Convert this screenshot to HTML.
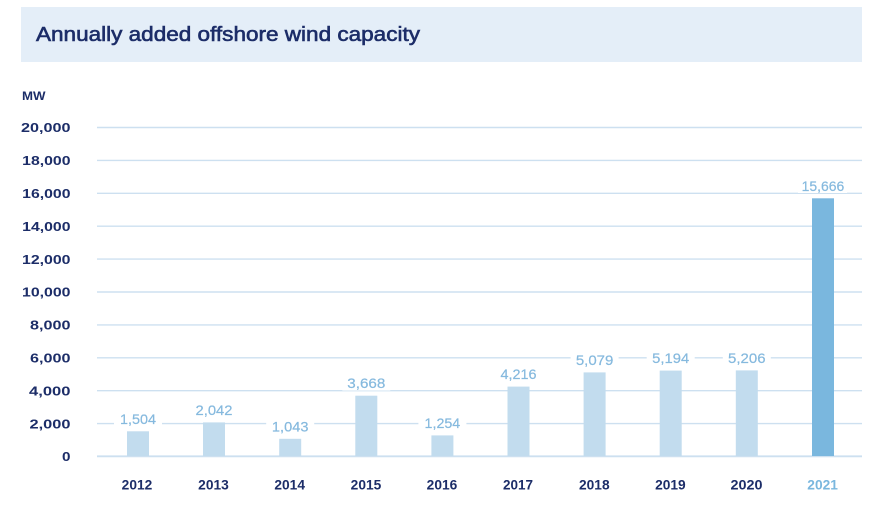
<!DOCTYPE html>
<html><head><meta charset="utf-8"><style>
html,body{margin:0;padding:0;background:#fff;}
svg{display:block;}
text{font-family:"Liberation Sans",sans-serif;}
</style></head><body>
<svg width="874" height="512" viewBox="0 0 874 512" xmlns="http://www.w3.org/2000/svg">
<rect x="0" y="0" width="874" height="512" fill="#fff"/>
<rect x="21" y="7" width="841" height="55" fill="#e4eef8"/>
<text x="36" y="41" font-size="20" fill="#1c2d68" stroke="#1c2d68" stroke-width="0.6" textLength="384" lengthAdjust="spacingAndGlyphs">Annually added offshore wind capacity</text>
<text x="22" y="100" font-size="11.5" font-weight="bold" fill="#1c2d68" textLength="23.5" lengthAdjust="spacingAndGlyphs">MW</text>
<g stroke="#cde0f0" stroke-width="1.4">
<line x1="97" x2="862" y1="127.5" y2="127.5"/>
<line x1="97" x2="862" y1="160.4" y2="160.4"/>
<line x1="97" x2="862" y1="193.3" y2="193.3"/>
<line x1="97" x2="862" y1="226.2" y2="226.2"/>
<line x1="97" x2="862" y1="259.1" y2="259.1"/>
<line x1="97" x2="862" y1="292" y2="292"/>
<line x1="97" x2="862" y1="324.9" y2="324.9"/>
<line x1="97" x2="862" y1="357.8" y2="357.8"/>
<line x1="97" x2="862" y1="390.7" y2="390.7"/>
<line x1="97" x2="862" y1="423.6" y2="423.6"/>
<line x1="97" x2="862" y1="456.3" y2="456.3" stroke-width="1.8"/>
</g>
<g font-size="13" font-weight="bold" fill="#1c2d68" text-anchor="end">
<text x="70.5" y="132.2" textLength="49.5" lengthAdjust="spacingAndGlyphs">20,000</text>
<text x="70.5" y="165.1" textLength="48.3" lengthAdjust="spacingAndGlyphs">18,000</text>
<text x="70.5" y="198" textLength="48.3" lengthAdjust="spacingAndGlyphs">16,000</text>
<text x="70.5" y="230.9" textLength="48.3" lengthAdjust="spacingAndGlyphs">14,000</text>
<text x="70.5" y="263.8" textLength="48.5" lengthAdjust="spacingAndGlyphs">12,000</text>
<text x="70.5" y="296.7" textLength="48.5" lengthAdjust="spacingAndGlyphs">10,000</text>
<text x="70.5" y="329.6" textLength="40.5" lengthAdjust="spacingAndGlyphs">8,000</text>
<text x="70.5" y="362.5" textLength="40.5" lengthAdjust="spacingAndGlyphs">6,000</text>
<text x="70.5" y="395.4" textLength="41.5" lengthAdjust="spacingAndGlyphs">4,000</text>
<text x="70.5" y="428.3" textLength="41" lengthAdjust="spacingAndGlyphs">2,000</text>
<text x="70.5" y="461" textLength="8.5" lengthAdjust="spacingAndGlyphs">0</text>
</g>
<g fill="#c2dcee">
<rect x="127" y="431.3" width="22" height="24.7"/>
<rect x="203" y="422.4" width="22" height="33.6"/>
<rect x="279.2" y="438.8" width="22" height="17.2"/>
<rect x="355.3" y="395.7" width="22" height="60.3"/>
<rect x="431.4" y="435.4" width="22" height="20.6"/>
<rect x="507.5" y="386.6" width="22" height="69.4"/>
<rect x="583.6" y="372.4" width="22" height="83.6"/>
<rect x="659.7" y="370.6" width="22" height="85.4"/>
<rect x="735.8" y="370.4" width="22" height="85.6"/>
</g>
<rect x="812" y="198.3" width="22" height="257.7" fill="#7ab7de"/>
<g fill="#fff">
<rect x="114" y="412" width="48" height="14"/>
<rect x="190.5" y="403" width="47" height="14"/>
<rect x="266.2" y="419.5" width="48" height="14"/>
<rect x="342.3" y="376.5" width="48" height="14"/>
<rect x="418.4" y="416" width="48" height="14"/>
<rect x="494.5" y="367.5" width="48" height="14"/>
<rect x="570.6" y="353" width="48" height="14"/>
<rect x="646.7" y="351.5" width="48" height="14"/>
<rect x="722.8" y="351" width="48" height="14"/>
<rect x="798" y="179" width="49" height="14"/>
</g>
<g font-size="13.5" fill="#85b9de" stroke="#85b9de" stroke-width="0.2" text-anchor="middle">
<text x="138" y="423.8" textLength="36" lengthAdjust="spacingAndGlyphs">1,504</text>
<text x="214" y="414.9" textLength="37" lengthAdjust="spacingAndGlyphs">2,042</text>
<text x="290.2" y="431.3" textLength="36.5" lengthAdjust="spacingAndGlyphs">1,043</text>
<text x="366.3" y="388.2" textLength="38" lengthAdjust="spacingAndGlyphs">3,668</text>
<text x="442.4" y="427.9" textLength="35.7" lengthAdjust="spacingAndGlyphs">1,254</text>
<text x="518.5" y="379.1" textLength="36" lengthAdjust="spacingAndGlyphs">4,216</text>
<text x="594.6" y="364.9" textLength="37.5" lengthAdjust="spacingAndGlyphs">5,079</text>
<text x="670.7" y="363.1" textLength="37" lengthAdjust="spacingAndGlyphs">5,194</text>
<text x="746.8" y="362.9" textLength="37.5" lengthAdjust="spacingAndGlyphs">5,206</text>
<text x="822.9" y="190.8" textLength="42.6" lengthAdjust="spacingAndGlyphs">15,666</text>
</g>
<g font-size="13.5" font-weight="bold" fill="#1c2d68" text-anchor="middle">
<text x="137" y="489.3" textLength="30.6" lengthAdjust="spacingAndGlyphs">2012</text>
<text x="213.5" y="489.3" textLength="30.6" lengthAdjust="spacingAndGlyphs">2013</text>
<text x="289.7" y="489.3" textLength="30.6" lengthAdjust="spacingAndGlyphs">2014</text>
<text x="366" y="489.3" textLength="30.6" lengthAdjust="spacingAndGlyphs">2015</text>
<text x="442" y="489.3" textLength="30.6" lengthAdjust="spacingAndGlyphs">2016</text>
<text x="518" y="489.3" textLength="30" lengthAdjust="spacingAndGlyphs">2017</text>
<text x="594.3" y="489.3" textLength="30.6" lengthAdjust="spacingAndGlyphs">2018</text>
<text x="670.4" y="489.3" textLength="30.6" lengthAdjust="spacingAndGlyphs">2019</text>
<text x="746.5" y="489.3" textLength="32" lengthAdjust="spacingAndGlyphs">2020</text>
<text x="822.6" y="489.3" textLength="30.6" lengthAdjust="spacingAndGlyphs" fill="#7ab7de">2021</text>
</g>
</svg>
</body></html>
